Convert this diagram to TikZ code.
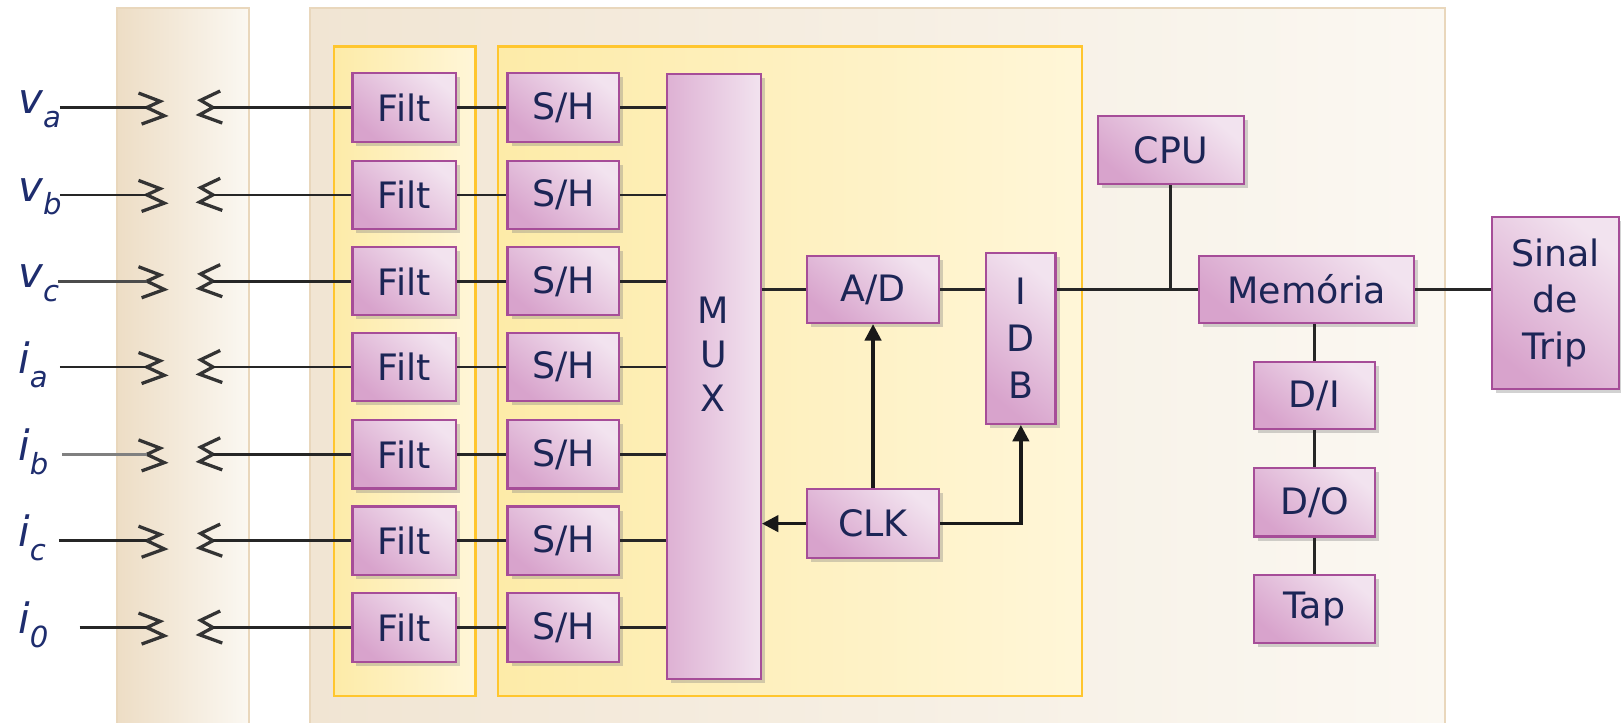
\documentclass[tikz,border=0pt]{standalone}
\usepackage{fontspec}
\setmainfont{DejaVu Sans}
\usetikzlibrary{shadows,arrows.meta,calc}
\definecolor{navy}{HTML}{1C2556}
\definecolor{lblc}{HTML}{1E2D6E}
\definecolor{pinkb}{HTML}{A64D98}
\definecolor{pinkl}{HTML}{F2E3EF}
\definecolor{pinkd}{HTML}{D8A3CC}
\definecolor{yelb}{HTML}{FFC62E}
\definecolor{yell}{HTML}{FFF6D8}
\definecolor{yeld}{HTML}{FDEBA8}
\definecolor{begb}{HTML}{E9D7BC}
\definecolor{begl}{HTML}{FBF8F2}
\definecolor{begd}{HTML}{EDDDC5}
\definecolor{begm}{HTML}{F1E5D3}
\begin{document}
\begin{tikzpicture}[x=0.01cm,y=-0.01cm,
  pbox/.style={draw=pinkb, line width=0.6pt, top color=pinkl, bottom color=pinkd, shading angle=-40,
    drop shadow={shadow xshift=1.1pt,shadow yshift=-1.1pt,opacity=0.35},
    text=navy, font=\fontsize{10}{12}\selectfont, inner sep=0pt, align=center},
  conn/.style={line width=0.75pt, draw=black!85},
  arr/.style={line width=0.9pt, draw=black!90, -{Triangle[length=4.5pt,width=4.5pt]}},
  zz/.style={line width=0.9pt, draw=black!80},
  lbl/.style={text=lblc, font=\fontsize{11.5}{13}\selectfont\itshape, anchor=base west, inner sep=0pt},
  panel/.style={draw=begb, line width=0.6pt},
  ybox/.style={draw=yelb, line width=0.6pt}]
\useasboundingbox (0,0) rectangle (1568,699);
\clip (0,0) rectangle (1568,699);
\fill[white] (0,0) rectangle (1568,699);
% panels
\path[panel, left color=begd, right color=begl] (113,8) rectangle (241,710);
\path[panel, left color=begm, right color=begl] (300,8) rectangle (1398,710);
\path[ybox, left color=yeld, right color=yell] (323,45) rectangle (460,673);
\path[ybox, left color=yeld, right color=yell] (482,45) rectangle (1047,673);
% central blocks
\node[pbox, minimum width=0.91cm, minimum height=5.85cm, left color=pinkd!85, right color=pinkl] (mux) at (690.5,364.5) {};
\node[text=navy, font=\fontsize{10}{12.1}\selectfont, align=center, inner sep=0pt] (muxt) at (690,343) {M\\U\\X};
\node[pbox, minimum width=1.27cm, minimum height=0.65cm] (ad) at (844.5,280) {A/D};
\node[pbox, minimum width=0.67cm, minimum height=1.65cm, font=\fontsize{10}{12.9}\selectfont] (idb) at (987.5,327.5) {I\\D\\B};
\node[pbox, minimum width=1.27cm, minimum height=0.67cm] (clk) at (844.5,506.5) {CLK};
\node[pbox, minimum width=1.41cm, minimum height=0.66cm] (cpu) at (1132.5,145) {CPU};
\node[pbox, minimum width=2.08cm, minimum height=0.65cm] (mem) at (1264,280) {Memória};
\node[pbox, minimum width=1.23cm, minimum height=1.66cm, font=\fontsize{10}{12.8}\selectfont] (sinal) at (1504.5,293) {Sinal\\de\\Trip};
\node[pbox, minimum width=1.17cm, minimum height=0.65cm] (di) at (1271.5,382.5) {D/I};
\node[pbox, minimum width=1.17cm, minimum height=0.66cm] (dout) at (1271.5,486) {D/O};
\node[pbox, minimum width=1.17cm, minimum height=0.66cm] (tap) at (1271.5,589) {Tap};
% input rows
\foreach \y/\l/\s/\xs/\lc [count=\i] in {104/v/a/58/black!85, 188.5/v/b/58/black!85, 272/v/c/56/black!70,
    355/i/a/58/black!85, 439.5/i/b/60/black!50, 523/i/c/57/black!85, 607/i/0/77/black!85}{
  \node[pbox, minimum width=1cm, minimum height=0.66cm] (f\i) at (391,\y) {Filt};
  \node[pbox, minimum width=1.08cm, minimum height=0.66cm] (s\i) at (545,\y) {S/H};
  \node[lbl] (lab\i) at (17,\y+6) {\l\raisebox{-3.8pt}{\fontsize{8}{8}\selectfont\s}};
  \coordinate (in\i) at (\xs,\y);
  \coordinate (zl\i) at (142,\y);
  \coordinate (zr\i) at (206,\y);
  \draw[zz] (134,\y-14) -- (155,\y-6) -- (zl\i) -- (159,\y+8) -- (137,\y+16);
  \draw[zz] (213,\y-16) -- (194,\y-7) -- (zr\i) -- (193,\y+7) -- (215,\y+15);
  \draw[conn, draw=\lc] (in\i) -- (zl\i);
  \draw[conn] (zr\i) -- (f\i.west);
  \draw[conn] (f\i.east) -- (s\i.west);
  \draw[conn] (s\i.east) -- (s\i.east -| mux.west);
}
% connectors
\draw[conn] (mux.east |- ad) -- (ad.west);
\draw[conn] (ad.east) -- (ad.east -| idb.west);
\draw[conn] (idb.east |- mem) -- (mem.west);
\draw[conn] (cpu.south) -- (cpu.south |- mem);
\draw[conn] (mem.east) -- (mem.east -| sinal.west);
\draw[conn] (di.north |- mem.south) -- (di.north);
\draw[conn] (di.south) -- (dout.north);
\draw[conn] (dout.south) -- (tap.north);
\draw[arr] (clk.north) -- (ad.south);
\draw[arr] (clk.west) -- (clk.west -| mux.east);
\draw[arr] (clk.east) -| (idb.south);
\end{tikzpicture}
\end{document}
